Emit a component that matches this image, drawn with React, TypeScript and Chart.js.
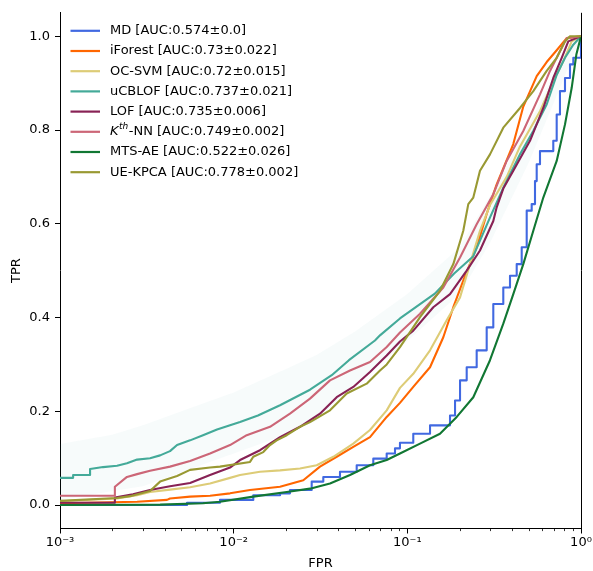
import React, { useEffect, useRef } from 'react';
import { Chart, registerables } from 'chart.js';

Chart.register(...registerables);

// ---- Legend / series meta ----
const methodNames = ['MD', 'iForest', 'OC-SVM', 'uCBLOF', 'LOF', 'K^th-NN', 'MTS-AE', 'UE-KPCA'];
const aucMeans = ['0.574', '0.73', '0.72', '0.737', '0.735', '0.749', '0.522', '0.778'];
const aucStds = ['0.0', '0.022', '0.015', '0.021', '0.006', '0.002', '0.026', '0.002'];
const lineColors = ['#4169E1', '#FF6600', '#DDCC77', '#44AA99', '#882255', '#CC6677', '#117733', '#999933'];

// ---- Series (FPR on a log axis, TPR) ----
const mdFpr = [0.001, 0.00539, 0.00834, 0.01297, 0.0185, 0.0211, 0.02814, 0.03282, 0.04095, 0.0511, 0.06368, 0.07606, 0.08492, 0.0907, 0.1082, 0.1351, 0.1761, 0.1882, 0.2011, 0.2197, 0.2508, 0.2864, 0.3126, 0.3569, 0.3901, 0.4264, 0.4556, 0.4868, 0.5201, 0.5434, 0.5558, 0.5806, 0.6925, 0.7245, 0.7568, 0.8088, 0.8643, 0.903, 1.0];
const mdTpr = [0, 0.005, 0.011, 0.021, 0.025, 0.032, 0.05, 0.06, 0.071, 0.085, 0.099, 0.11, 0.121, 0.133, 0.152, 0.17, 0.191, 0.223, 0.266, 0.294, 0.33, 0.379, 0.429, 0.464, 0.489, 0.514, 0.55, 0.628, 0.642, 0.691, 0.727, 0.755, 0.777, 0.833, 0.883, 0.911, 0.94, 0.954, 1.0];

const iforestFpr = [0.001, 0.00278, 0.00413, 0.0043, 0.00561, 0.00731, 0.00953, 0.01242, 0.01849, 0.02517, 0.03141, 0.0392, 0.04885, 0.06095, 0.07606, 0.0907, 0.1082, 0.1351, 0.1611, 0.184, 0.21, 0.2508, 0.2864, 0.3269, 0.4075, 0.4653, 0.5558, 0.6345, 0.7245, 0.8273, 1.0];
const iforestTpr = [0.004, 0.007, 0.011, 0.014, 0.018, 0.02, 0.025, 0.032, 0.039, 0.053, 0.082, 0.103, 0.124, 0.145, 0.188, 0.218, 0.252, 0.294, 0.358, 0.422, 0.479, 0.55, 0.621, 0.684, 0.77, 0.85, 0.915, 0.945, 0.97, 0.996, 1.0];

const ocsvmFpr = [0.001, 0.00213, 0.00278, 0.0033, 0.0043, 0.00561, 0.00731, 0.00953, 0.01088, 0.01418, 0.01849, 0.02409, 0.03007, 0.03748, 0.04885, 0.06095, 0.07606, 0.0907, 0.1082, 0.1351, 0.1685, 0.2011, 0.2295, 0.262, 0.2992, 0.3734, 0.4454, 0.5806, 0.6925, 0.7908, 0.884, 1.0];
const ocsvmTpr = [0.008, 0.014, 0.021, 0.028, 0.033, 0.038, 0.046, 0.058, 0.064, 0.071, 0.074, 0.078, 0.085, 0.103, 0.131, 0.16, 0.202, 0.25, 0.28, 0.33, 0.394, 0.443, 0.514, 0.585, 0.64, 0.7, 0.765, 0.84, 0.904, 0.947, 0.989, 1.0];

const ucblofFpr = [0.001, 0.00119, 0.00119, 0.00149, 0.00149, 0.00177, 0.00213, 0.00243, 0.00278, 0.0033, 0.00377, 0.0043, 0.00472, 0.00561, 0.00666, 0.00802, 0.00953, 0.01088, 0.0138, 0.01849, 0.02751, 0.0367, 0.0461, 0.0651, 0.0696, 0.0907, 0.144, 0.186, 0.239, 0.299, 0.357, 0.445, 0.531, 0.635, 0.725, 0.809, 0.903, 1.0];
const ucblofTpr = [0.058, 0.058, 0.064, 0.064, 0.077, 0.081, 0.084, 0.089, 0.097, 0.1, 0.106, 0.115, 0.128, 0.138, 0.149, 0.161, 0.17, 0.177, 0.191, 0.213, 0.246, 0.277, 0.309, 0.351, 0.362, 0.398, 0.451, 0.494, 0.53, 0.613, 0.677, 0.748, 0.798, 0.855, 0.918, 0.954, 0.982, 1.0];

const lofFpr = [0.001, 0.00207, 0.00207, 0.00263, 0.0033, 0.0043, 0.00561, 0.00731, 0.00953, 0.01088, 0.01418, 0.01849, 0.02409, 0.03141, 0.0392, 0.04885, 0.06095, 0.07606, 0.0907, 0.1082, 0.1411, 0.1761, 0.2197, 0.262, 0.3126, 0.3269, 0.3569, 0.4075, 0.5085, 0.6066, 0.6925, 0.7743, 0.845, 1.0];
const lofTpr = [0.005, 0.005, 0.016, 0.023, 0.032, 0.04, 0.047, 0.064, 0.08, 0.096, 0.117, 0.145, 0.167, 0.195, 0.23, 0.252, 0.284, 0.319, 0.349, 0.372, 0.422, 0.45, 0.5, 0.543, 0.606, 0.635, 0.675, 0.713, 0.777, 0.847, 0.911, 0.954, 0.989, 1.0];

const knnFpr = [0.001, 0.00207, 0.00207, 0.00243, 0.00278, 0.0033, 0.0043, 0.00561, 0.00731, 0.00953, 0.01189, 0.01619, 0.0211, 0.02751, 0.03587, 0.04676, 0.06095, 0.07606, 0.0907, 0.1183, 0.1611, 0.2011, 0.2508, 0.3126, 0.3734, 0.4653, 0.5806, 0.6629, 0.7568, 0.8273, 1.0];
const knnTpr = [0.02, 0.02, 0.039, 0.06, 0.066, 0.073, 0.082, 0.094, 0.11, 0.128, 0.149, 0.167, 0.195, 0.227, 0.266, 0.287, 0.305, 0.337, 0.368, 0.408, 0.464, 0.528, 0.599, 0.663, 0.734, 0.798, 0.876, 0.926, 0.968, 0.996, 1.0];

const mtsaeFpr = [0.001, 0.00377, 0.00666, 0.00834, 0.01297, 0.0202, 0.02751, 0.03587, 0.04676, 0.06095, 0.07606, 0.0907, 0.1183, 0.1542, 0.1925, 0.2398, 0.2992, 0.3569, 0.4075, 0.4653, 0.5313, 0.6066, 0.7245, 0.8088, 0.884, 0.94, 1.0];
const mtsaeTpr = [0, 0.001, 0.004, 0.007, 0.018, 0.028, 0.035, 0.046, 0.064, 0.085, 0.096, 0.11, 0.131, 0.152, 0.188, 0.23, 0.309, 0.387, 0.45, 0.514, 0.585, 0.656, 0.734, 0.812, 0.89, 0.961, 1.0];

const uekpcaFpr = [0.001, 0.00213, 0.00253, 0.0033, 0.00377, 0.00472, 0.00561, 0.00731, 0.00834, 0.01242, 0.01297, 0.01481, 0.01619, 0.01769, 0.0202, 0.02409, 0.02751, 0.03587, 0.04476, 0.05834, 0.0696, 0.0761, 0.0907, 0.1183, 0.1542, 0.184, 0.21, 0.2244, 0.2398, 0.2508, 0.262, 0.2992, 0.3569, 0.4454, 0.5313, 0.6345, 0.7245, 0.8088, 0.8643, 1.0];
const uekpcaTpr = [0.009, 0.015, 0.019, 0.03, 0.05, 0.062, 0.075, 0.08, 0.082, 0.092, 0.103, 0.113, 0.128, 0.138, 0.149, 0.167, 0.177, 0.202, 0.238, 0.259, 0.287, 0.3, 0.337, 0.401, 0.457, 0.514, 0.585, 0.642, 0.656, 0.685, 0.713, 0.748, 0.805, 0.847, 0.883, 0.926, 0.954, 0.989, 1.0, 1.0];

// faint ± spread band of uCBLOF
const ucblofBandFpr = [0.001, 0.002, 0.003, 0.005, 0.01, 0.02, 0.03, 0.05, 0.1, 0.2, 0.3, 0.5, 0.7, 1.0];
const ucblofBandUpper = [0.13, 0.15, 0.17, 0.2, 0.24, 0.29, 0.32, 0.37, 0.45, 0.55, 0.66, 0.81, 0.92, 1.0];
const ucblofBandLower = [0.01, 0.03, 0.04, 0.07, 0.11, 0.15, 0.18, 0.26, 0.35, 0.45, 0.56, 0.73, 0.86, 1.0];

const seriesFpr = [mdFpr, iforestFpr, ocsvmFpr, ucblofFpr, lofFpr, knnFpr, mtsaeFpr, uekpcaFpr];
const seriesTpr = [mdTpr, iforestTpr, ocsvmTpr, ucblofTpr, lofTpr, knnTpr, mtsaeTpr, uekpcaTpr];
const steppedSeries = [true, false, false, false, false, false, false, false];

// ---- Axes ----
const xTickValues = [0.001, 0.01, 0.1, 1];
const xTickLabels = ['10\u207B\u00B3', '10\u207B\u00B2', '10\u207B\u00B9', '10\u2070'];
const xMinorMultipliers = [2, 3, 4, 5, 6, 7, 8, 9];
const yTickValues = [0, 0.2, 0.4, 0.6, 0.8, 1.0];

const FONT = '"DejaVu Sans", sans-serif';

const zip = (xs: number[], ys: number[]) => {
  const n = Math.min(xs.length, ys.length);
  const out = [] as { x: number; y: number }[];
  for (let k = 0; k < n; k++) out.push({ x: xs[k], y: ys[k] });
  return out;
};

const framePlugin = {
  id: 'frameAndMinor',
  afterDraw(chart: any) {
    const { ctx, chartArea, scales } = chart;
    const xs = scales.x;
    ctx.save();
    ctx.strokeStyle = '#000';
    ctx.lineWidth = 1;
    ctx.beginPath();
    const rx = Math.round(chartArea.right) + 0.5;
    ctx.moveTo(rx, chartArea.top);
    ctx.lineTo(rx, chartArea.bottom);
    ctx.stroke();
    ctx.lineWidth = 0.8;
    for (let d = 0; d < xTickValues.length - 1; d++) {
      for (const m of xMinorMultipliers) {
        const v = xTickValues[d] * m;
        const px = Math.round(xs.getPixelForValue(v)) + 0.5;
        ctx.beginPath();
        ctx.moveTo(px, chartArea.bottom);
        ctx.lineTo(px, chartArea.bottom + 2.6);
        ctx.stroke();
      }
    }
    ctx.restore();
  },
};

const legendPlugin = {
  id: 'insideLegend',
  afterDatasetsDraw(chart: any) {
    const { ctx, chartArea } = chart;
    ctx.save();
    ctx.textBaseline = 'middle';
    ctx.textAlign = 'left';
    methodNames.forEach((name, i) => {
      const y = chartArea.top + 18 + i * 20.2;
      const x0 = chartArea.left + 10.5;
      ctx.strokeStyle = lineColors[i];
      ctx.lineWidth = 2.2;
      ctx.beginPath();
      ctx.moveTo(x0, y);
      ctx.lineTo(x0 + 29.5, y);
      ctx.stroke();
      let tx = chartArea.left + 50;
      ctx.fillStyle = '#000';
      const rest = ` [AUC:${aucMeans[i]}\u00B1${aucStds[i]}]`;
      if (name.includes('^')) {
        const [base, sup] = name.split('^');
        const supText = sup.slice(0, 2);
        const tail = sup.slice(2);
        ctx.font = `italic 13px ${FONT}`;
        ctx.fillText(base, tx, y);
        tx += ctx.measureText(base).width + 0.5;
        ctx.font = `italic 9px ${FONT}`;
        ctx.fillText(supText, tx, y - 5);
        tx += ctx.measureText(supText).width + 0.5;
        ctx.font = `13px ${FONT}`;
        ctx.fillText(tail + rest, tx, y);
      } else {
        ctx.font = `13px ${FONT}`;
        ctx.fillText(name + rest, tx, y);
      }
    });
    ctx.restore();
  },
};

export default function App() {
  const canvasRef = useRef<HTMLCanvasElement | null>(null);

  useEffect(() => {
    document.body.style.margin = '0';
    const canvas = canvasRef.current;
    if (!canvas) return;

    const datasets: any[] = methodNames.map((name, i) => ({
      label: name,
      data: zip(seriesFpr[i], seriesTpr[i]),
      borderColor: lineColors[i],
      backgroundColor: lineColors[i],
      borderWidth: 2.1,
      pointRadius: 0,
      showLine: true,
      fill: false,
      tension: 0,
      stepped: steppedSeries[i] ? 'before' : false,
      order: methodNames.length - i,
      borderJoinStyle: 'round',
      borderCapStyle: 'butt',
    }));

    const lowerIndex = datasets.length;
    datasets.push({
      label: 'uCBLOF-low',
      data: zip(ucblofBandFpr, ucblofBandLower),
      borderColor: 'rgba(0,0,0,0)',
      borderWidth: 0,
      pointRadius: 0,
      showLine: true,
      fill: false,
      order: 50,
    });
    datasets.push({
      label: 'uCBLOF-high',
      data: zip(ucblofBandFpr, ucblofBandUpper),
      borderColor: 'rgba(0,0,0,0)',
      backgroundColor: 'rgba(68,170,153,0.045)',
      borderWidth: 0,
      pointRadius: 0,
      showLine: true,
      fill: lowerIndex,
      order: 49,
    });

    const chart = new Chart(canvas, {
      type: 'scatter',
      data: { datasets },
      plugins: [framePlugin, legendPlugin],
      options: {
        responsive: false,
        animation: false,
        devicePixelRatio: 1,
        layout: { padding: { left: 0, top: 11, right: 12, bottom: 0 } },
        plugins: {
          legend: { display: false },
          tooltip: { enabled: false },
          filler: { propagate: false },
        },
        scales: {
          x: {
            type: 'logarithmic',
            min: 0.001,
            max: 1,
            afterBuildTicks: (s: any) => {
              s.ticks = xTickValues.map((v) => ({ value: v }));
            },
            afterFit: (s: any) => {
              s.height = 42.5;
            },
            ticks: {
              autoSkip: false,
              maxRotation: 0,
              padding: 1,
              color: '#000',
              font: { family: FONT, size: 13 },
              callback: (v: any) => {
                const idx = xTickValues.findIndex((t) => Math.abs(t - Number(v)) < 1e-12);
                return idx >= 0 ? xTickLabels[idx] : '';
              },
            },
            grid: {
              display: true,
              drawOnChartArea: false,
              drawTicks: true,
              tickLength: 5,
              tickColor: '#000',
              tickWidth: 1,
            },
            border: { display: true, color: '#000', width: 1 },
            title: {
              display: true,
              text: 'FPR',
              color: '#000',
              font: { family: FONT, size: 13 },
              padding: { top: 0, bottom: 0 },
            },
          },
          y: {
            type: 'linear',
            min: -0.05,
            max: 1.05,
            afterBuildTicks: (s: any) => {
              s.ticks = yTickValues.map((v) => ({ value: v }));
            },
            afterFit: (s: any) => {
              s.width = 60;
            },
            ticks: {
              padding: 5,
              color: '#000',
              font: { family: FONT, size: 13 },
              callback: (v: any) => Number(v).toFixed(1),
            },
            grid: {
              display: true,
              drawOnChartArea: false,
              drawTicks: true,
              tickLength: 5,
              tickColor: '#000',
              tickWidth: 1,
            },
            border: { display: true, color: '#000', width: 1 },
            title: {
              display: true,
              text: 'TPR',
              color: '#000',
              font: { family: FONT, size: 13 },
              padding: { top: 9, bottom: 0 },
            },
          },
        },
      } as any,
    });

    return () => chart.destroy();
  }, []);

  return (
    <div style={{ position: 'absolute', left: 0, top: 0, width: 593, height: 571, background: '#fff' }}>
      <canvas ref={canvasRef} width={593} height={571} style={{ display: 'block' }} />
    </div>
  );
}
